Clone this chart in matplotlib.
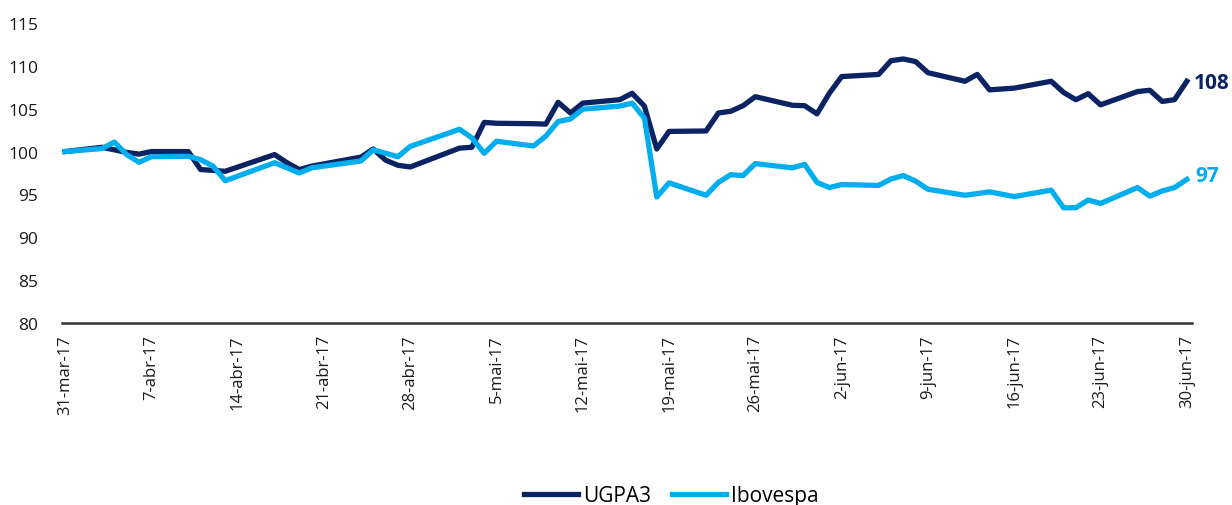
import pandas as pd
import matplotlib
matplotlib.use('Agg')
import matplotlib.pyplot as plt

plt.rcParams['font.family'] = ['Open Sans', 'DejaVu Sans']

# pregões (31-mar-17 a 30-jun-17)
datas = ['2017-03-31',
         '2017-04-03', '2017-04-04', '2017-04-05', '2017-04-06', '2017-04-07',
         '2017-04-10', '2017-04-11', '2017-04-12', '2017-04-13',
         '2017-04-17', '2017-04-18', '2017-04-19', '2017-04-20',
         '2017-04-24', '2017-04-25', '2017-04-26', '2017-04-27', '2017-04-28',
         '2017-05-02', '2017-05-03', '2017-05-04', '2017-05-05',
         '2017-05-08', '2017-05-09', '2017-05-10', '2017-05-11', '2017-05-12',
         '2017-05-15', '2017-05-16', '2017-05-17', '2017-05-18', '2017-05-19',
         '2017-05-22', '2017-05-23', '2017-05-24', '2017-05-25', '2017-05-26',
         '2017-05-29', '2017-05-30', '2017-05-31', '2017-06-01', '2017-06-02',
         '2017-06-05', '2017-06-06', '2017-06-07', '2017-06-08', '2017-06-09',
         '2017-06-12', '2017-06-13', '2017-06-14', '2017-06-16',
         '2017-06-19', '2017-06-20', '2017-06-21', '2017-06-22', '2017-06-23',
         '2017-06-26', '2017-06-27', '2017-06-28', '2017-06-29', '2017-06-30']

ugpa3 = [100.0,
         100.5, 100.2, 99.9, 99.7, 100.0,
         100.0, 97.9, 97.8, 97.7,
         99.65, 98.7, 97.9, 98.3,
         99.35, 100.3, 99.0, 98.4, 98.2,
         100.4, 100.5, 103.4, 103.3,
         103.25, 103.2, 105.75, 104.5, 105.65,
         106.05, 106.8, 105.3, 100.3, 102.35,
         102.4, 104.5, 104.7, 105.35, 106.4,
         105.4, 105.35, 104.4, 106.8, 108.75,
         109.0, 110.6, 110.8, 110.5, 109.2,
         108.2, 109.0, 107.2, 107.4,
         108.2, 106.9, 106.05, 106.75, 105.45,
         107.0, 107.15, 105.85, 106.05, 108.2]

ibovespa = [100.0,
            100.35, 101.1, 99.65, 98.75, 99.4,
            99.45, 99.05, 98.3, 96.6,
            98.7, 98.1, 97.5, 98.1,
            98.9, 100.2, 99.8, 99.4, 100.6,
            102.6, 101.6, 99.8, 101.2,
            100.65, 101.8, 103.5, 103.8, 104.95,
            105.3, 105.65, 103.9, 94.7, 96.35,
            94.9, 96.4, 97.3, 97.2, 98.6,
            98.1, 98.5, 96.4, 95.8, 96.15,
            96.05, 96.8, 97.2, 96.55, 95.6,
            94.9, 95.1, 95.3, 94.75,
            95.5, 93.45, 93.45, 94.35, 93.95,
            95.8, 94.8, 95.4, 95.8, 96.75]

tick_datas = ['2017-03-31', '2017-04-07', '2017-04-14', '2017-04-21', '2017-04-28',
              '2017-05-05', '2017-05-12', '2017-05-19', '2017-05-26', '2017-06-02',
              '2017-06-09', '2017-06-16', '2017-06-23', '2017-06-30']
tick_labels = ['31-mar-17', '7-abr-17', '14-abr-17', '21-abr-17', '28-abr-17',
               '5-mai-17', '12-mai-17', '19-mai-17', '26-mai-17', '2-jun-17',
               '9-jun-17', '16-jun-17', '23-jun-17', '30-jun-17']

cor_ugpa = '#0b2263'
cor_ibov = '#00aeef'

datas = pd.to_datetime(datas)
ticks = pd.to_datetime(tick_datas)

fig = plt.figure(figsize=(12.32, 5.06), dpi=100)
ax = fig.add_axes([0.0503, 0.3597, 0.9172, 0.5929])

ax.plot(datas, ugpa3, color=cor_ugpa, lw=3.8, label='UGPA3')
ax.plot(datas, ibovespa, color=cor_ibov, lw=3.8, label='Ibovespa')

# rótulos do último valor
ax.annotate(f'{ugpa3[-1]:.0f}', (datas[-1], ugpa3[-1]), xytext=(5, -1), textcoords='offset points',
            ha='left', va='center', color=cor_ugpa, fontsize=15, fontweight='bold')
ax.annotate(f'{ibovespa[-1]:.0f}', (datas[-1], ibovespa[-1]), xytext=(6, 3), textcoords='offset points',
            ha='left', va='center', color=cor_ibov, fontsize=15, fontweight='bold')

ax.set_ylim(80, 115)
ax.set_yticks(range(80, 116, 5))
ax.set_xlim(datas[0] - pd.Timedelta(hours=6), datas[-1] + pd.Timedelta(hours=10))
ax.set_xticks(ticks)
ax.set_xticklabels(tick_labels, rotation=90)

ax.tick_params(axis='y', length=0, pad=17, labelsize=12.5, colors='#1a1a1a')
ax.tick_params(axis='x', length=0, pad=8, labelsize=12, colors='#1a1a1a')
for s in ['top', 'right', 'left']:
    ax.spines[s].set_visible(False)
ax.spines['bottom'].set_color('#333333')
ax.spines['bottom'].set_linewidth(1.8)

fig.legend(loc='center', bbox_to_anchor=(0.545, 0.018), ncol=2, frameon=False,
           fontsize=15, handlelength=2.6, handletextpad=0.25, columnspacing=1.0)

fig.savefig('out.png', dpi=100)
